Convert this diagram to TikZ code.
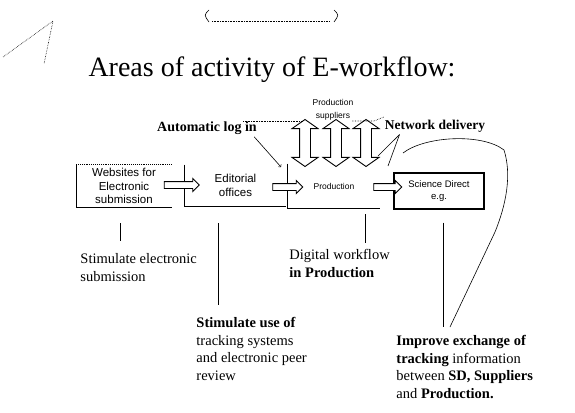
\documentclass[tikz,border=0pt]{standalone}
\usepackage{fontspec}
\setmainfont{Liberation Serif}
\setsansfont{Liberation Sans}
\usetikzlibrary{shapes.arrows,positioning}

\begin{document}
\begin{tikzpicture}[
    x=1pt, y=-1pt, line width=0.9pt,
    boxtext/.style={rectangle, inner sep=0pt, align=center,
                    font=\sffamily\fontsize{9.5}{12}\selectfont},
    flowarrow/.style={single arrow, draw, fill=white, inner sep=3pt,
                      single arrow head extend=3pt, minimum height=#1},
    supplyarrow/.style={double arrow, draw, fill=white, shape border rotate=90,
                        inner sep=5pt, double arrow head extend=7.5pt,
                        double arrow tip angle=110, minimum height=47pt},
    remark/.style={align=left, anchor=north west, inner sep=0pt,
                   font=\fontsize{14.5}{17.5}\selectfont},
    pointer/.style={inner sep=0pt, font=\bfseries\fontsize{14}{16}\selectfont}
]
\useasboundingbox[fill=white] (0,0) rectangle (575,412);

% scan marks at the top
\draw[densely dotted, line width=0.6pt] (3,57) -- (53,21) -- (44,64);
\draw[line width=0.6pt] (209,10) .. controls (204,15) .. (209,22);
\draw[densely dotted, line width=0.6pt] (212,21) -- (330,21);
\draw[line width=0.6pt] (334,10) .. controls (339,15) .. (334,22);

\node[anchor=base, inner sep=0pt, font=\fontsize{28}{32}\selectfont] (title)
    at (272,77) {Areas of activity of E-workflow:};

% the boxes
\node[boxtext, minimum width=95pt, minimum height=42pt,
      font=\sffamily\fontsize{11.5}{13.5}\selectfont] (web) at (124,186)
    {Websites for\\Electronic\\submission};
\node[boxtext, minimum width=101pt, minimum height=41pt,
      font=\sffamily\fontsize{11.5}{13.5}\selectfont] (edit) at (235.5,185.5)
    {Editorial\\offices};
\node[boxtext, minimum width=92pt, minimum height=44pt,
      font=\sffamily\fontsize{8.5}{10}\selectfont] (prod) at (334,186) {Production};
\node[boxtext, draw, line width=1.3pt, minimum width=90pt, minimum height=36pt] (sd)
    at (439,191) {Science Direct\\e.g.};

\draw[densely dotted] (web.north west) -- (web.north east);
\draw (web.north west) -- (web.south west) -- (web.south east);
\draw (edit.north west) -- (edit.south west) -- (edit.south east);
\draw (prod.north west) -- (prod.south west) -- (prod.south east);

\node[flowarrow=35pt] (a1) at (180,185) {};
\node[flowarrow=30pt] (a2) at (286,187) {};
\node[flowarrow=28pt] (a3) at (386,187) {};

% suppliers
\node[boxtext, font=\sffamily\fontsize{8.5}{13}\selectfont] (supp) at (333,110)
    {Production\\suppliers};
\foreach \x/\n in {305/1, 336/2, 366/3}
    \node[supplyarrow] (s\n) at (\x,143) {};
\draw[densely dotted, line width=0.6pt] (243,121) -- (303,121);
\draw[densely dotted, line width=0.6pt] (352,121) -- (374,121) -- (384,117);

% callouts
\node[pointer] (login) at (207,128) {Automatic log in};
\node[pointer, font=\bfseries\fontsize{13.5}{16}\selectfont] (net) at (435,126)
    {Network delivery};
\coordinate (logtip) at (281,167);
\draw[->, line width=0.6pt] ([xshift=-3pt,yshift=-2pt]login.south east) -- (logtip);
\coordinate (n1) at (378,156);
\coordinate (n2) at (388,166);
\draw[line width=0.6pt] ([xshift=15pt,yshift=-2pt]net.south west) -- (n1);
\draw[line width=0.6pt] ([xshift=15pt,yshift=-2pt]net.south west) -- (n2);

% remarks below
\node[remark] (l1) at (80,253) {Stimulate electronic\\submission};
\node[remark] (l2) at (196,317) {\textbf{Stimulate use of}\\tracking systems\\and electronic peer\\review};
\node[remark] (l3) at (289,249) {Digital workflow\\\textbf{in Production}};
\node[remark] (l4) at (396,335) {\textbf{Improve exchange of}\\\textbf{tracking} information\\between \textbf{SD, Suppliers}\\and \textbf{Production.}};

\draw (web.south) ++(-4,16) -- ++(0,18);
\draw (edit.south) ++(-17.5,17) -- ++(0,82);
\draw (prod.south) ++(31,6) -- ++(0,29);
\draw (sd.south) ++(4,13) -- ++(0,104);

\coordinate (c0) at (403,153);
\coordinate (c1) at (450,327);
\draw[line width=0.6pt] (c0) .. controls (425,136) and (482,133) .. (504,150)
    .. controls (512,175) and (506,205) .. (495,232) -- (c1);
\end{tikzpicture}
\end{document}
